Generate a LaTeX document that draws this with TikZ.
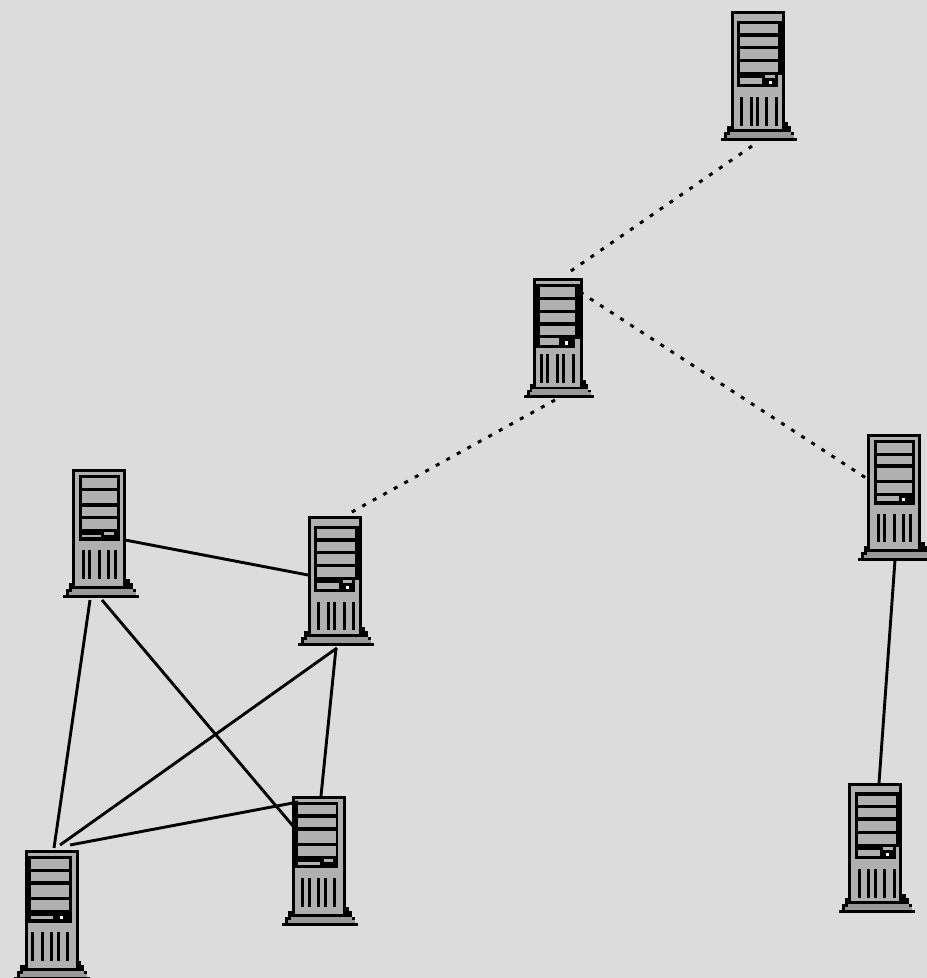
\documentclass[tikz,border=0pt]{standalone}
\definecolor{bgc}{HTML}{DCDCDC}
\definecolor{cell}{HTML}{B0B0B0}
\definecolor{plinth}{HTML}{999999}
\tikzset{
  srvbox/.style={inner sep=0pt,outer sep=0pt,anchor=north west},
  wire/.style={line width=2.9pt,black},
  dotwire/.style={line width=3pt,black,dash pattern=on 4pt off 8pt}
}
\newcommand\bk[2]{\fill[black] (#1) rectangle (#2);}
\newcommand\gy[2]{\fill[cell] (#1) rectangle (#2);}
\newcommand\wh[2]{\fill[white] (#1) rectangle (#2);}
\newcommand\chassis[1]{%
  \bk{0,127}{76,130}\bk{3,121}{73,127}\bk{6,115}{70,121}\bk{#1,111}{67,115}%
  \fill[plinth] (6,123.5) rectangle (73,127);\fill[plinth] (9,120.5) rectangle (70,124);%
  \bk{#1,0}{#1+54,118}\gy{#1+3,3}{#1+51,118}}
\newcommand\drives[3]{\foreach \a/\b in {#3}{\gy{#1,\a}{#2,\b}}}
\newcommand\vents[3]{\foreach \a in {#3}{\bk{\a,#1}{\a+3,#2}}}
\newcommand\server[6]{%
  \node[srvbox,minimum width=#4pt,minimum height=#5pt] (#1) at (#2,#3) {};
  \begin{scope}[shift={(#2,#3)},xscale=#4/76,yscale=#5/130]#6\end{scope}}
\begin{document}
\begin{tikzpicture}[x=1pt,y=-1pt]
\fill[bgc] (0,0) rectangle (927,978);
\useasboundingbox (0,0) rectangle (927,978);
\clip (0,0) rectangle (927,978);
% top right
\server{s1}{721}{11}{76}{130}{\chassis{10}
  \bk{16,10}{64,64}\bk{16,64}{57,76}
  \drives{19}{57}{13/22,26/35,38/48,51/61}
  \gy{19,67}{41,73}\gy{44,64}{54,67}\wh{48,70}{51,73}
  \vents{86}{115}{19,29,35,44,54}}
% centre
\server{s2}{524}{278}{70}{120}{\chassis{10}
  \bk{10,6.5}{64,66}\bk{10,65}{55.4,76}
  \drives{17.5}{55.4}{10/21,24/35,38/48,52/62}
  \gy{17.5,65}{38,72.6}\wh{44.5,68}{48,73}
  \vents{82}{114}{17.4,23.9,34.7,41.3,52.1}}
% right
\server{s3}{858}{434}{76}{127}{\chassis{9}
  \bk{16,6}{57,73}
  \drives{19}{54}{9/19,22/31,35/47,50/60}
  \gy{19,63}{41,69}\wh{44,66}{47,69}
  \vents{82}{111}{19,25,35,44,51}}
% bottom right
\server{s4}{839}{783}{76}{130}{\chassis{9}
  \bk{16,9}{63,64}\bk{16,64}{57,76}
  \drives{19}{57}{13/22,25/34,38/48,51/61}
  \gy{19,67}{41,73}\gy{44,64}{54,67}\wh{47,70}{50,73}
  \vents{86}{115}{19,28,35,44,54}}
% left
\server{s5}{63}{469}{76}{129}{\chassis{9}
  \bk{16,6}{57,73}
  \drives{19}{54}{9/19,22/34,38/47,50/60}
  \gy{19,66}{38,69}\gy{41,63}{51,66}
  \vents{82}{111}{19,25,35,44,51}}
% middle left
\server{s6}{298}{516}{76}{130}{\chassis{10}
  \bk{16,10}{64,64}\bk{16,64}{57,76}
  \drives{19}{57}{13/22,26/35,38/48,51/61}
  \gy{19,67}{41,73}\gy{45,64}{54,67}\wh{48,70}{51,73}
  \vents{86}{114}{19,29,35,45,54}}
% bottom middle
\server{s7}{282}{796}{76}{130}{\chassis{10}
  \bk{10,6}{56,72}
  \drives{16}{54}{9/18,22/31,35/47,50/60}
  \gy{16,66}{38,69}\gy{42,63}{51,66}
  \vents{82}{111}{19,26,35,42,51}}
% bottom left
\server{s8}{14}{850}{76}{130}{\chassis{11}
  \bk{11,6}{58,73}
  \drives{17}{55}{9/19,22/31,35/47,50/60}
  \gy{17,66}{39,69}\wh{46,66}{49,69}
  \vents{82}{111}{17,27,36,43,52}}
% connectors
\draw[dotwire] ([shift={(31,135)}]s1.north west) -- ([shift={(41,-3)}]s2.north west);
\draw[dotwire] ([shift={(56,14)}]s2.north west) -- ([shift={(8,44)}]s3.north west);
\draw[dotwire] ([shift={(31,122)}]s2.north west) -- ([shift={(52,-3)}]s6.north west);
\draw[wire] ([shift={(62,71)}]s5.north west) -- ([shift={(10,59)}]s6.north west);
\draw[wire] ([shift={(27,131)}]s5.north west) -- ([shift={(40,-2)}]s8.north west);
\draw[wire] ([shift={(39,131)}]s5.north west) -- ([shift={(11,30)}]s7.north west);
\draw[wire] ([shift={(39,132)}]s6.north west) -- ([shift={(46,-5)}]s8.north west);
\draw[wire] ([shift={(38,132)}]s6.north west) -- ([shift={(39,0)}]s7.north west);
\draw[wire] ([shift={(56,-5)}]s8.north west) -- ([shift={(16,6)}]s7.north west);
\draw[wire] ([shift={(37,126)}]s3.north west) -- ([shift={(40,0)}]s4.north west);
\end{tikzpicture}
\end{document}
